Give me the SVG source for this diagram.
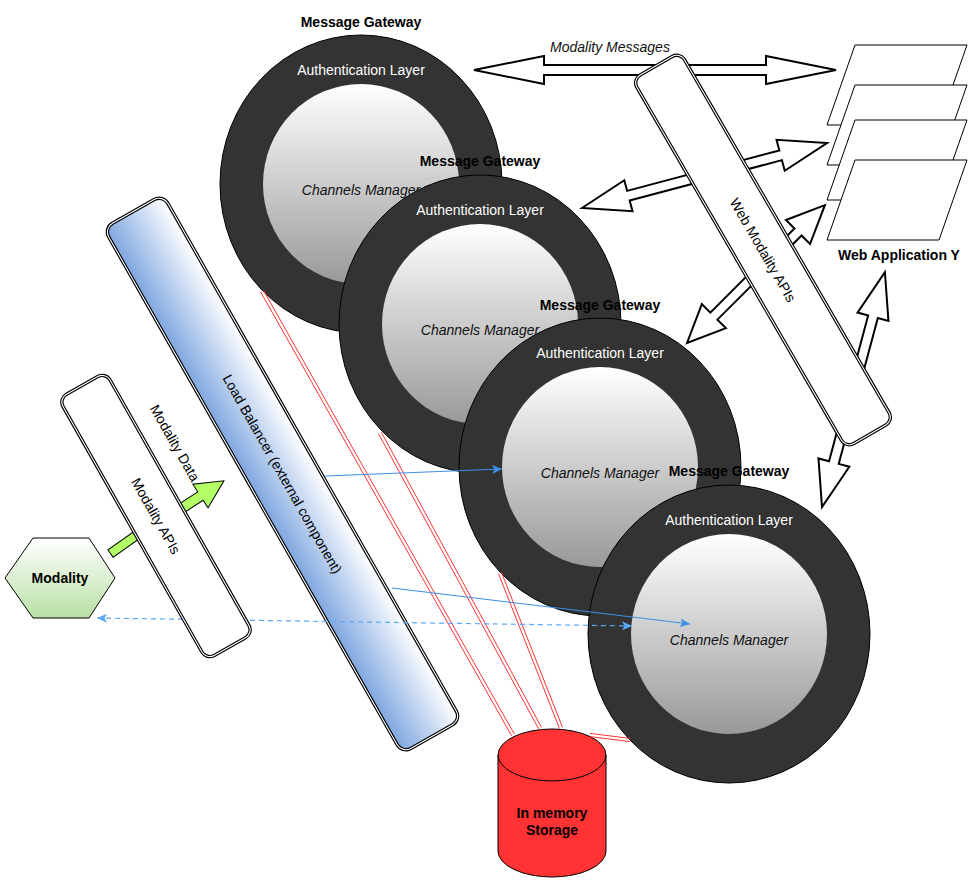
<svg xmlns="http://www.w3.org/2000/svg" width="977" height="882" viewBox="0 0 977 882">
<defs>
<style>
text{font-family:"Liberation Sans",Arial,Helvetica,sans-serif;font-size:14px}
.ring{fill:#333333;stroke:#000;stroke-width:1}
.core{fill:url(#coreGrad)}
.tt{font-weight:bold;fill:#000;text-anchor:middle}
.ta{fill:#fff;text-anchor:middle}
.tc{font-style:italic;fill:#111;text-anchor:middle}
.tm{fill:#000;text-anchor:middle}
.bo{stroke:#000;stroke-width:3.4}
.bi{fill:none;stroke:#fff;stroke-width:1.1}
.block{fill:#fff;stroke:#000;stroke-width:2;stroke-linejoin:miter}
.red{stroke:#FF3333;stroke-width:1;fill:none}
.blue{stroke:#3D8FE8;stroke-width:1.2;fill:none}
.dash{stroke:#5AA8F8;stroke-width:1.2;fill:none;stroke-dasharray:5 4}
.green{fill:#B3FF66;stroke:#000;stroke-width:1}
.page{fill:#fff;stroke:#000;stroke-width:1}
</style>
<linearGradient id="coreGrad" x1="0" y1="0" x2="0" y2="1">
<stop offset="0" stop-color="#FFFFFF"/>
<stop offset="1" stop-color="#999999"/>
</linearGradient>
<linearGradient id="lbGrad" x1="0" y1="0" x2="0" y2="1">
<stop offset="0" stop-color="#FFFFFF"/>
<stop offset="1" stop-color="#7EA6E0"/>
</linearGradient>
<linearGradient id="hexGrad" x1="0" y1="0" x2="0" y2="1">
<stop offset="0" stop-color="#FFFFFF"/>
<stop offset="1" stop-color="#B9E0A5"/>
</linearGradient>
<marker id="arrBlue" markerUnits="userSpaceOnUse" markerWidth="11" markerHeight="9" refX="10" refY="4.5" orient="auto-start-reverse">
<path d="M0,0 L10,4.5 L0,9 L2.5,4.5 Z" fill="#3D8FE8"/>
</marker>
<marker id="arrDash" markerUnits="userSpaceOnUse" markerWidth="11" markerHeight="9" refX="10" refY="4.5" orient="auto-start-reverse">
<path d="M0,0 L10,4.5 L0,9 L2.5,4.5 Z" fill="#5AA8F8"/>
</marker>
</defs>
<rect width="977" height="882" fill="#fff"/>

<g id="gateway-1">
<ellipse class="ring" cx="361" cy="184" rx="141" ry="149"/>
<ellipse class="core" cx="361" cy="184" rx="98" ry="100"/>
<text class="tt" x="361" y="27">Message Gateway</text>
<text class="ta" x="361" y="75">Authentication Layer</text>
<text class="tc" x="361" y="195">Channels Manager</text>
</g>
<g id="gateway-2">
<ellipse class="ring" cx="480" cy="324" rx="141" ry="149"/>
<ellipse class="core" cx="480" cy="324" rx="98" ry="100"/>
<text class="tt" x="480" y="166">Message Gateway</text>
<text class="ta" x="480" y="215">Authentication Layer</text>
<text class="tc" x="480" y="335">Channels Manager</text>
</g>
<g id="gateway-3">
<ellipse class="ring" cx="600" cy="467" rx="141" ry="149"/>
<ellipse class="core" cx="600" cy="467" rx="98" ry="100"/>
<text class="tt" x="600" y="310">Message Gateway</text>
<text class="ta" x="600" y="358">Authentication Layer</text>
<text class="tc" x="600" y="478">Channels Manager</text>
</g>
<g id="gateway-4">
<ellipse class="ring" cx="729" cy="634" rx="141" ry="149"/>
<ellipse class="core" cx="729" cy="634" rx="98" ry="100"/>
<text class="tt" x="729" y="476">Message Gateway</text>
<text class="ta" x="729" y="525">Authentication Layer</text>
<text class="tc" x="729" y="645">Channels Manager</text>
</g>

<g id="load-balancer" transform="translate(282.5,474) rotate(60.4)">
<rect class="bo" x="-302" y="-34" width="604" height="68" rx="10" fill="url(#lbGrad)"/>
<rect class="bi" x="-302" y="-34" width="604" height="68" rx="10"/>
<text class="tm" x="0" y="5">Load Balancer (external component)</text>
</g>

<g id="storage">
<path d="M498,755 L498,851 A54,26 0 0 0 606,851 L606,755 A54,26 0 0 0 498,755 Z" fill="#FF3333" stroke="#000" stroke-width="1"/>
<path d="M498,755 A54,26 0 0 0 606,755" fill="none" stroke="#000" stroke-width="1"/>
<text class="tt" x="552" y="818">In memory</text>
<text class="tt" x="552" y="835">Storage</text>
</g>

<g id="modality">
<polygon points="5,578 33,538 89,538 115,578 89,618 33,618" fill="url(#hexGrad)" stroke="#000" stroke-width="1"/>
<text class="tt" x="60" y="583">Modality</text>
</g>

<g id="web-application">
<polygon class="page" points="855,45 967,45 939,125 827,125"/>
<polygon class="page" points="855,85 967,85 939,165 827,165"/>
<polygon class="page" points="855,120 967,120 939,200 827,200"/>
<polygon class="page" points="855,160 967,160 939,240 827,240"/>
<text class="tt" x="899" y="260">Web Application Y</text>
</g>

<g id="connectors">
<path class="red" d="M260.6,291.8 L511.6,735.8 M263.4,290.2 L514.4,734.2"/>
<path class="red" d="M378.6,433.8 L538.6,728.8 M381.4,432.2 L541.4,727.2"/>
<path class="red" d="M498.5,573.6 L559.5,728.6 M501.5,572.4 L562.5,727.4"/>
<path class="red" d="M590,733.4 L630,738.4 M590,736.6 L630,741.6"/>

<polygon class="block" transform="translate(474,70)" points="0,0 70,-14 70,-5 292,-5 292,-14 362,0 292,14 292,5 70,5 70,14"/>
<text class="tc" x="610" y="52">Modality Messages</text>
<polygon class="block" transform="translate(582,208) rotate(-14.86)" points="0,0 48,-16 48,-5 205.5,-5 205.5,-16 253.5,0 205.5,16 205.5,5 48,5 48,16"/>
<polygon class="block" transform="translate(687,343) rotate(-45)" points="0,0 38,-17 38,-5 157,-5 157,-17 195,0 157,17 157,5 38,5 38,17"/>
<polygon class="block" transform="translate(822,507) rotate(-75)" points="0,0 46,-16 46,-5 197,-5 197,-16 243,0 197,16 197,5 46,5 46,16"/>

<line class="blue" x1="325" y1="476" x2="502" y2="469" marker-end="url(#arrBlue)"/>
<line class="blue" x1="392" y1="588" x2="690" y2="624" marker-end="url(#arrBlue)"/>
<line class="dash" x1="97" y1="618" x2="632" y2="626" marker-start="url(#arrDash)" marker-end="url(#arrDash)"/>

<polygon class="green" transform="translate(182,508) rotate(-33)" points="0,-5 22,-5 22,-14 50,0 22,14 22,5 0,5"/>
<rect class="green" transform="translate(110.5,553.5) rotate(-35)" x="0" y="-4.5" width="34" height="9"/>
<text class="tm" transform="translate(175,443) rotate(60.5)" x="0" y="5">Modality Data</text>
</g>

<g id="web-modality-apis" transform="translate(763,250) rotate(59.9)">
<rect class="bo" x="-213" y="-27.5" width="426" height="55" rx="9" fill="#fff"/>
<rect class="bi" x="-213" y="-27.5" width="426" height="55" rx="9"/>
<text class="tm" x="0" y="5">Web Modality APIs</text>
</g>

<g id="modality-apis" transform="translate(156,516) rotate(60.5)">
<rect class="bo" x="-150" y="-27" width="300" height="54" rx="9" fill="#fff"/>
<rect class="bi" x="-150" y="-27" width="300" height="54" rx="9"/>
<text class="tm" x="0" y="5">Modality APIs</text>
</g>
</svg>
